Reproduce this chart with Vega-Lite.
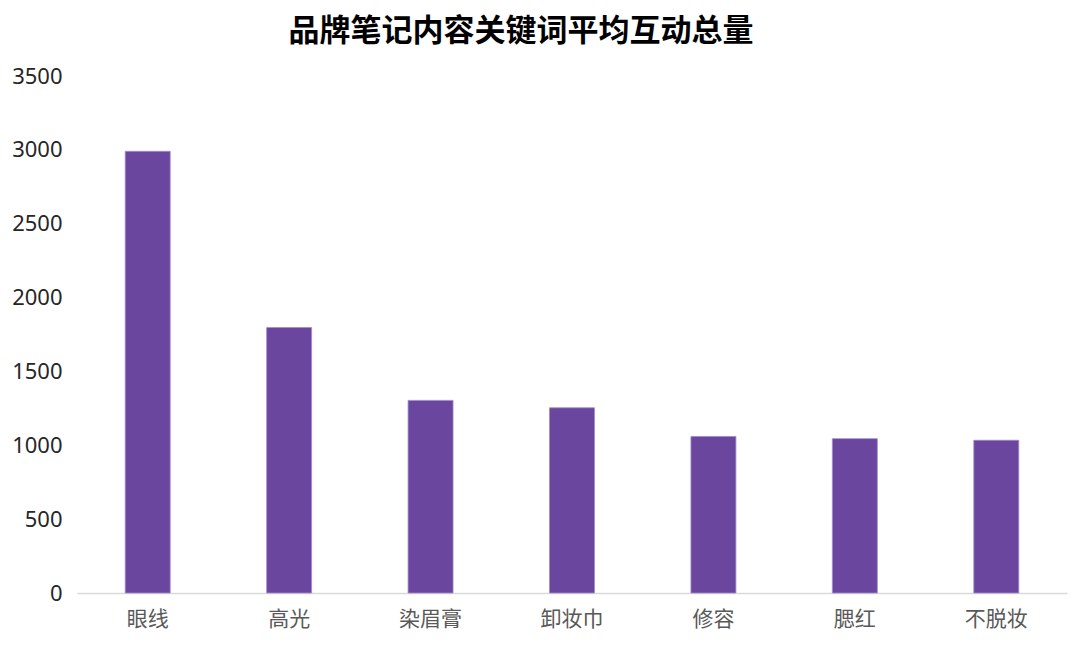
{
  "$schema": "https://vega.github.io/schema/vega-lite/v6.json",
  "description": "品牌笔记内容关键词平均互动总量",
  "width": 990,
  "height": 517,
  "autosize": {"type": "none"},
  "padding": {"left": 77, "top": 76, "right": 13, "bottom": 56},
  "background": "#ffffff",
  "title": {
    "text": "品牌笔记内容关键词平均互动总量",
    "font": "Noto Sans CJK SC",
    "fontSize": 31,
    "fontWeight": "bold",
    "color": "#000000",
    "anchor": "middle",
    "dx": -51,
    "offset": 17
  },
  "data": {
    "values": [
      {"keyword": "眼线", "value": 2990},
      {"keyword": "高光", "value": 1797},
      {"keyword": "染眉膏", "value": 1304},
      {"keyword": "卸妆巾", "value": 1254},
      {"keyword": "修容", "value": 1060},
      {"keyword": "腮红", "value": 1045},
      {"keyword": "不脱妆", "value": 1034}
    ]
  },
  "mark": {"type": "bar", "color": "#6A469E", "stroke": "#9F8ACB", "strokeWidth": 0.8},
  "encoding": {
    "x": {
      "field": "keyword",
      "type": "nominal",
      "sort": null,
      "title": null,
      "scale": {"paddingInner": 0.682, "paddingOuter": 0.341},
      "axis": {
        "labelAngle": 0,
        "ticks": false,
        "domainColor": "#D9D9D9",
        "domainWidth": 1.5,
        "labelFont": "Noto Sans CJK SC",
        "labelFontSize": 21,
        "labelColor": "#595959",
        "labelPadding": 15
      }
    },
    "y": {
      "field": "value",
      "type": "quantitative",
      "title": null,
      "scale": {"domain": [0, 3500], "nice": false},
      "axis": {
        "values": [0, 500, 1000, 1500, 2000, 2500, 3000, 3500],
        "format": "d",
        "domain": false,
        "ticks": false,
        "grid": false,
        "labelFont": "Noto Sans",
        "labelFontSize": 22,
        "labelColor": "#262626",
        "labelPadding": 15
      }
    }
  },
  "config": {"view": {"stroke": null}}
}
